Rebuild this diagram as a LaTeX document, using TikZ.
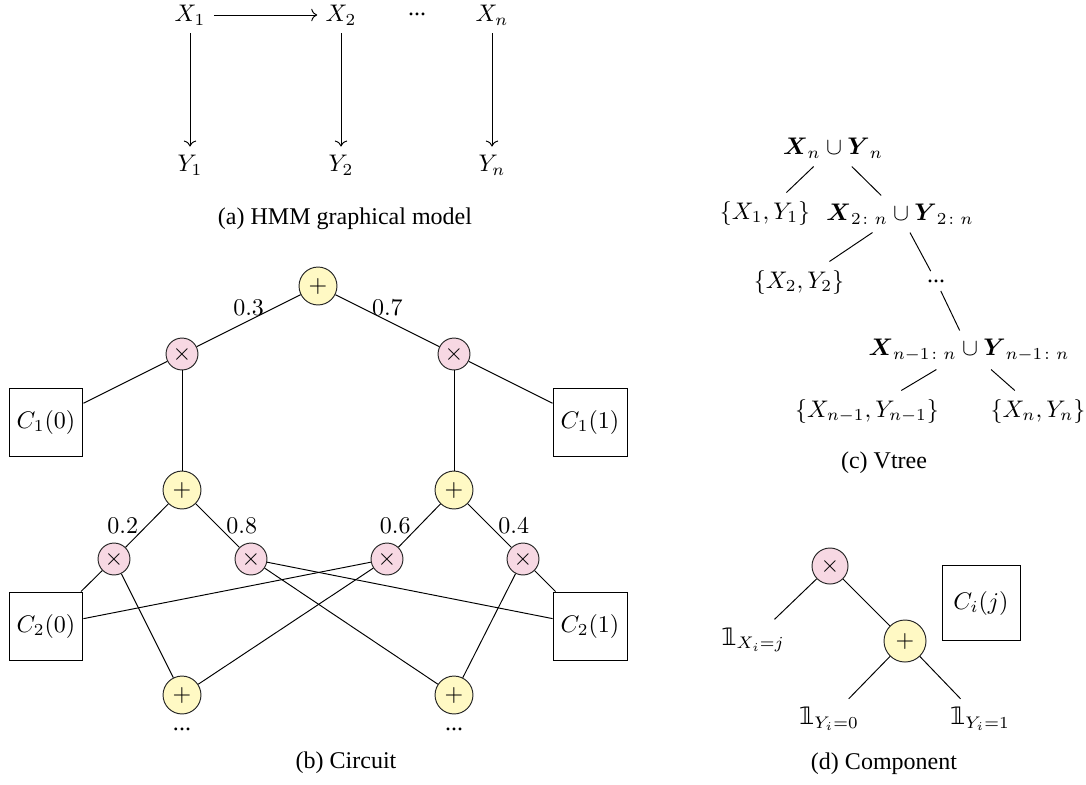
\documentclass[tikz,border=0pt]{standalone}
\usepackage{amsmath}
\usepackage[no-math]{fontspec}
\setmainfont{Liberation Serif}
\newfontfamily\symfont{DejaVu Sans}
\newcommand{\indic}{\text{\symfont 𝟙}}
\usepackage{tikz}
\usetikzlibrary{arrows.meta, positioning}
\definecolor{sumfill}{RGB}{255,249,196}
\definecolor{prodfill}{RGB}{247,216,227}

\begin{document}
\begin{tikzpicture}[
    x=0.4165pt, y=-0.4165pt,
    sumnode/.style={
        draw=black!85,
        circle,
        fill=sumfill,
        minimum size=15.8pt,
        inner sep=0pt
    },
    prodnode/.style={
        draw=black!85,
        circle,
        fill=prodfill,
        minimum size=13.3pt,
        inner sep=0pt
    },
    leaf/.style={
        draw,
        minimum width=30.8pt,
        minimum height=28.3pt,
        inner sep=1pt
    },
    weight/.style={midway, inner sep=2pt},
    arrow/.style={->}
]
\useasboundingbox (0,0) rectangle (1086,784);

% (a) HMM graphical model
\node (x1) at (190,15) {$X_1$};
\node (x2) at (341,15) {$X_2$};
\node (xdots) at (417,14) {...};
\node (xn) at (492,15) {$X_n$};
\node (y1) at (190,165) {$Y_1$};
\node (y2) at (341,165) {$Y_2$};
\node (yn) at (492,165) {$Y_n$};

\draw[arrow] (x1) -- (x2);
\foreach \i in {1,2,n}
    \draw[arrow] (x\i) -- (y\i);

\node (capa) at (345,219) {(a) HMM graphical model};

% (b) circuit
\node[sumnode] (p0) at (318,286) {$+$};
\node[prodnode] (m1) at (182,354) {$\times$};
\node[prodnode] (m2) at (454,354) {$\times$};
\node[leaf] (c10) at (46,422) {$C_1(0)$};
\node[leaf] (c11) at (590,422) {$C_1(1)$};
\node[sumnode] (p1) at (182,490) {$+$};
\node[sumnode] (p2) at (454,490) {$+$};
\node[prodnode] (m3) at (114,559) {$\times$};
\node[prodnode] (m4) at (251,559) {$\times$};
\node[prodnode] (m5) at (387,559) {$\times$};
\node[prodnode] (m6) at (523,559) {$\times$};
\node[leaf] (c20) at (46,626) {$C_2(0)$};
\node[leaf] (c21) at (590,626) {$C_2(1)$};
\node[sumnode] (q1) at (182,695) {$+$};
\node[sumnode] (q2) at (454,695) {$+$};
\node[below=2pt of q1] (q1dots) {...};
\node[below=2pt of q2] (q2dots) {...};

\draw (p0) -- node[weight, above] {$0.3$} (m1);
\draw (p0) -- node[weight, above] {$0.7$} (m2);
\draw (m1) -- (c10);
\draw (m2) -- (c11);
\draw (m1) -- (p1);
\draw (m2) -- (p2);
\draw (p1) -- node[weight, left=1.5pt] {$0.2$} (m3);
\draw (p1) -- node[weight, right=1.5pt] {$0.8$} (m4);
\draw (p2) -- node[weight, left=1.5pt] {$0.6$} (m5);
\draw (p2) -- node[weight, right=1.5pt] {$0.4$} (m6);
\draw (m3) -- (c20);
\draw (m3) -- (q1);
\draw (m4) -- (c21);
\draw (m4) -- (q2);
\draw (m5) -- (c20);
\draw (m5) -- (q1);
\draw (m6) -- (c21);
\draw (m6) -- (q2);

\node (capb) at (346,763) {(b) Circuit};

% (c) vtree
\node (v0) at (833,148) {$\boldsymbol{X}_n \cup \boldsymbol{Y}_n$};
\node (v1) at (765,213) {$\{X_1, Y_1\}$};
\node (v2) at (900,214) {$\boldsymbol{X}_{2\colon n} \cup \boldsymbol{Y}_{2\colon n}$};
\node (v3) at (799,282) {$\{X_2, Y_2\}$};
\node (vdots) at (936,281) {...};
\node (v4) at (969,350) {$\boldsymbol{X}_{n-1\colon n} \cup \boldsymbol{Y}_{n-1\colon n}$};
\node (v5) at (867,411) {$\{X_{n-1}, Y_{n-1}\}$};
\node (v6) at (1038,411) {$\{X_n, Y_n\}$};

\draw (v0) -- (v1);
\draw (v0) -- (v2);
\draw (v2) -- (v3);
\draw (v2) -- (vdots);
\draw (vdots) -- (v4);
\draw (v4) -- (v5);
\draw (v4) -- (v6);

\node (capc) at (884,463) {(c) Vtree};

% (d) component
\node[prodnode, minimum size=15pt] (ct) at (830,566) {$\times$};
\node[sumnode, minimum size=17.5pt] (cp) at (905,641) {$+$};
\node (ix) at (753,640) {$\indic_{X_i=j}$};
\node (iy0) at (829,719) {$\indic_{Y_i=0}$};
\node (iy1) at (980,719) {$\indic_{Y_i=1}$};
\node[leaf, minimum width=32.5pt, minimum height=31.2pt] (cij) at (981,603) {$C_i(j)$};

\draw (ct) -- (ix);
\draw (ct) -- (cp);
\draw (cp) -- (iy0);
\draw (cp) -- (iy1);

\node (capd) at (884,764) {(d) Component};
\end{tikzpicture}
\end{document}
